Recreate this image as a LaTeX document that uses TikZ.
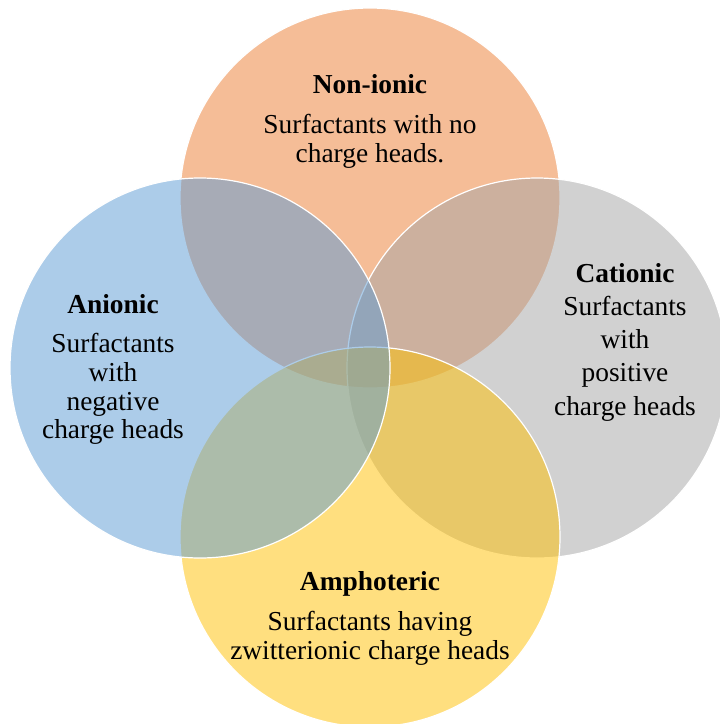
\documentclass[tikz,border=0pt]{standalone}
\usepackage{fontspec}
\setmainfont{Liberation Serif}
\usepackage{tikz}
\usetikzlibrary{positioning}
\definecolor{vorange}{HTML}{ED7D31}
\definecolor{vblue}{HTML}{5B9BD5}
\definecolor{vgrey}{HTML}{A5A5A5}
\definecolor{vyellow}{HTML}{FFC000}

\begin{document}
\begin{tikzpicture}[x=1pt,y=-1pt,
    venn/.style={draw=white,line width=1.2pt,fill opacity=0.5},
    titre/.style={anchor=base,inner sep=0pt,font=\fontsize{27.4}{28.8}\selectfont\bfseries},
    texte/.style={anchor=north,inner sep=0pt,align=center,font=\fontsize{27.4}{28.8}\selectfont}]

\useasboundingbox[fill=white] (0,0) rectangle (720,724);

\coordinate (ctop) at (370,198);
\coordinate (cright) at (537,368);
\coordinate (cbottom) at (370,537);
\coordinate (cleft) at (200,368);

\draw[venn,fill=vorange] (ctop) circle (190pt);
\draw[venn,fill=vgrey] (cright) circle (190pt);
\draw[venn,fill=vyellow] (cbottom) circle (190pt);
\draw[venn,fill=vblue] (cleft) circle (190pt);

\node[titre] (t1) at (370,93) {Non-ionic};
\node[texte,below=21pt of t1.base] (b1) {Surfactants with no\\charge heads.};

\node[titre] (t2) at (113,313) {Anionic};
\node[texte,below=20pt of t2.base] (b2) {Surfactants\\with\\negative\\charge heads};

\node[titre] (t3) at (625,282) {Cationic};
\node[texte,font=\fontsize{27.4}{33.2}\selectfont,below=14pt of t3.base] (b3) {Surfactants\\with\\positive\\charge heads};

\node[titre] (t4) at (370,590) {Amphoteric};
\node[texte,below=21pt of t4.base] (b4) {Surfactants having\\zwitterionic charge heads};

\end{tikzpicture}
\end{document}
